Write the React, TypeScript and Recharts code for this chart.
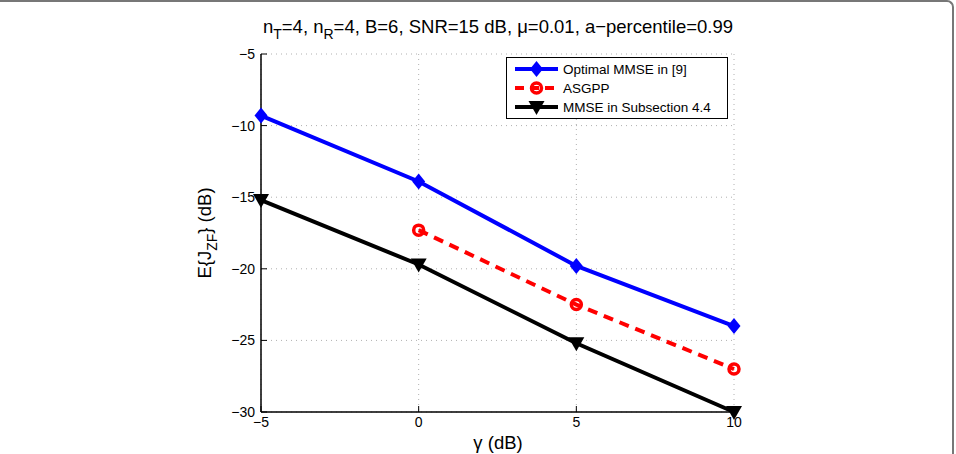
import React from 'react';
import {
  LineChart,
  Line,
  XAxis,
  YAxis,
  CartesianGrid
} from 'recharts';

// gamma (dB) on the x axis
const gammaDb = [-5, 0, 5, 10];
const optimalMmse = [-9.3, -13.9, -19.8, -24.0];
const asgpp = [null, -17.3, -22.5, -27.0];
const mmseSubsection = [-15.2, -19.7, -25.2, -30.0];

const xTicks = [-5, 0, 5, 10];
const yTicks = [-30, -25, -20, -15, -10, -5];

const data = gammaDb.map((g, i) => ({
  gamma: g,
  optimal: optimalMmse[i],
  asgpp: asgpp[i],
  mmse: mmseSubsection[i],
}));

const FONT = '"Liberation Sans", Arial, Helvetica, sans-serif';
const fmt = (v: number) => String(v).replace('-', '\u2212');

const Diamond = ({ cx, cy, color }: { cx: number; cy: number; color: string }) => (
  <path d={`M${cx},${cy - 8} L${cx + 6.5},${cy} L${cx},${cy + 8} L${cx - 6.5},${cy} Z`} fill={color} />
);
const Ring = ({ cx, cy, color }: { cx: number; cy: number; color: string }) => (
  <circle cx={cx} cy={cy} r={5} fill="none" stroke={color} strokeWidth={3.5} />
);
const DownTriangle = ({ cx, cy, color }: { cx: number; cy: number; color: string }) => (
  <path d={`M${cx - 8},${cy - 6} L${cx + 8},${cy - 6} L${cx},${cy + 8} Z`} fill={color} />
);

const dotFor = (Shape: React.FC<any>, color: string) => (props: any) => {
  if (props.cx == null || props.cy == null || props.value == null) return <g key={props.index} />;
  return <Shape key={props.index} cx={props.cx} cy={props.cy} color={color} />;
};

const legendRows = [
  { label: 'Optimal MMSE in [9]', color: '#0000ff', dash: undefined, Shape: Diamond },
  { label: 'ASGPP', color: '#ff0000', dash: '9 6', Shape: Ring },
  { label: 'MMSE in Subsection 4.4', color: '#000000', dash: undefined, Shape: DownTriangle },
];

const LegendBox = () => (
  <svg width={222} height={62} style={{ display: 'block' }}>
    <rect x={0.5} y={0.5} width={221} height={61} fill="#fff" stroke="#000" strokeWidth={1} />
    {legendRows.map((r, i) => {
      const y = 12 + i * 19;
      return (
        <g key={r.label}>
          <line x1={9} x2={52} y1={y} y2={y} stroke={r.color} strokeWidth={4} strokeDasharray={r.dash} />
          <r.Shape cx={30.5} cy={y} color={r.color} />
          <text x={57} y={y + 5} fontSize={13.5} fontFamily={FONT} fill="#000">{r.label}</text>
        </g>
      );
    })}
  </svg>
);

export default function App() {
  return (
    <div
      style={{
        position: 'fixed',
        left: 0,
        top: 0,
        width: 956,
        height: 454,
        background: '#fff',
        overflow: 'hidden',
      }}
    >
      <div
        style={{
          position: 'absolute',
          left: -10,
          top: 0,
          width: 964,
          height: 470,
          borderTop: '2px solid #777',
          borderRight: '2px solid #777',
          borderTopRightRadius: 7,
          boxSizing: 'border-box',
        }}
      />
      <svg width={956} height={454} style={{ position: 'absolute', left: 0, top: 0 }}>
        <text x={498} y={33} textAnchor="middle" fontSize={18.5} fontFamily={FONT} fill="#000">
          n<tspan dy={6} fontSize={14}>T</tspan>
          <tspan dy={-6}>=4, n</tspan>
          <tspan dy={6} fontSize={14}>R</tspan>
          <tspan dy={-6}>=4, B=6, SNR=15 dB, μ=0.01, a−percentile=0.99</tspan>
        </text>
        <text x={498} y={449} textAnchor="middle" fontSize={18.5} fontFamily={FONT} fill="#000">
          γ (dB)
        </text>
        <text
          transform="translate(211,233) rotate(-90)"
          textAnchor="middle"
          fontSize={18.5}
          fontFamily={FONT}
          fill="#000"
        >
          E{'{'}J<tspan dy={6} fontSize={14}>ZF</tspan>
          <tspan dy={-6}>{'}'} (dB)</tspan>
        </text>
      </svg>
      <div style={{ position: 'absolute', left: 0, top: 0 }}>
        <LineChart
          width={956}
          height={454}
          data={data}
          margin={{ top: 54, right: 222, left: 221, bottom: 12 }}
          style={{ fontFamily: FONT, overflow: 'visible' }}
        >
          <CartesianGrid stroke="#b0b0b0" strokeDasharray="1 4" strokeWidth={1} />
          <XAxis
            dataKey="gamma"
            type="number"
            domain={[-5, 10]}
            ticks={xTicks}
            height={30}
            tickSize={-6}
            tickMargin={11}
            tickFormatter={fmt}
            stroke="#000"
            tick={{ fill: '#000', fontSize: 14 }}
            axisLine={{ stroke: '#000', strokeWidth: 1.5 }}
            tickLine={{ stroke: '#000' }}
          />
          <XAxis
            xAxisId="top"
            dataKey="gamma"
            type="number"
            orientation="top"
            domain={[-5, 10]}
            ticks={xTicks}
            height={0}
            tickSize={-6}
            tick={false}
            axisLine={{ stroke: '#000', strokeWidth: 1.5 }}
            tickLine={{ stroke: '#000' }}
          />
          <YAxis
            type="number"
            domain={[-30, -5]}
            ticks={yTicks}
            width={40}
            tickSize={-6}
            tickMargin={12}
            tickFormatter={fmt}
            tick={{ fill: '#000', fontSize: 14 }}
            axisLine={{ stroke: '#000', strokeWidth: 1.5 }}
            tickLine={{ stroke: '#000' }}
          />
          <YAxis
            yAxisId="right"
            orientation="right"
            type="number"
            domain={[-30, -5]}
            ticks={yTicks}
            width={0}
            tickSize={-6}
            tick={false}
            axisLine={{ stroke: '#000', strokeWidth: 1.5 }}
            tickLine={{ stroke: '#000' }}
          />
          <Line
            dataKey="optimal"
            name="Optimal MMSE in [9]"
            stroke="#0000ff"
            strokeWidth={4}
            dot={dotFor(Diamond, '#0000ff')}
            isAnimationActive={false}
          />
          <Line
            dataKey="asgpp"
            name="ASGPP"
            stroke="#ff0000"
            strokeWidth={4}
            strokeDasharray="10 7"
            dot={dotFor(Ring, '#ff0000')}
            isAnimationActive={false}
          />
          <Line
            dataKey="mmse"
            name="MMSE in Subsection 4.4"
            stroke="#000000"
            strokeWidth={4}
            dot={dotFor(DownTriangle, '#000000')}
            isAnimationActive={false}
          />
        </LineChart>
      </div>
      <div style={{ position: 'absolute', left: 506, top: 57 }}>
        <LegendBox />
      </div>
    </div>
  );
}
